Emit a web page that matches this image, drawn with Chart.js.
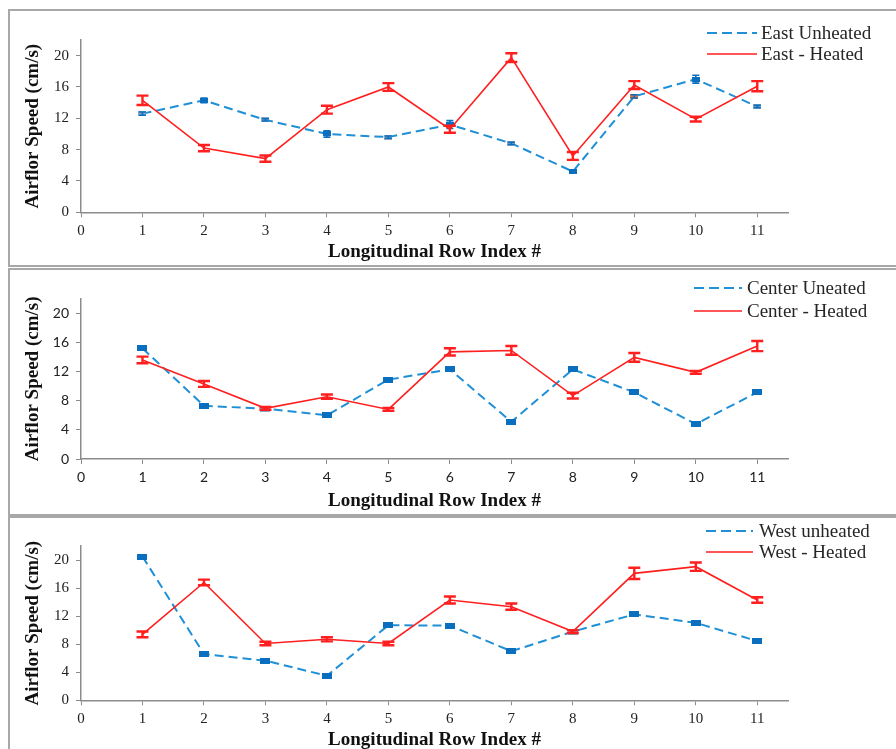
<!DOCTYPE html>
<html>
<head>
<meta charset="utf-8">
<script src="https://cdn.jsdelivr.net/npm/chart.js@4/dist/chart.umd.min.js"></script>
<style>
body{margin:0;background:#fff;width:896px;height:749px;overflow:hidden;position:relative}
.panel{position:absolute;left:8px;width:900px;border:2px solid #a8a8a8;box-sizing:border-box}
canvas{position:absolute;left:0}
.lg{position:absolute;font-family:'Liberation Serif',serif;font-size:19px;color:#262626;white-space:nowrap;line-height:22px}
</style>
</head>
<body>
<div class="panel" style="top:9px;height:258px"></div>
<div class="panel" style="top:268px;height:248px"></div>
<div class="panel" style="top:516px;height:240px"></div>
<canvas id="east" width="896" height="258" style="top:9px"></canvas>
<canvas id="center" width="896" height="249" style="top:268px"></canvas>
<canvas id="west" width="896" height="233" style="top:516px"></canvas>
<div id="legends"></div>
<script>
// row index along the greenhouse
var rowIndex = [1, 2, 3, 4, 5, 6, 7, 8, 9, 10, 11];
var xTickValues = [0, 1, 2, 3, 4, 5, 6, 7, 8, 9, 10, 11];
var yTickValues = [0, 4, 8, 12, 16, 20];

var eastUnheated    = [12.6, 14.3, 11.8, 10.0, 9.6, 11.2, 8.8, 5.2, 14.8, 17.0, 13.5];
var eastUnheatedErr = [0.2, 0.3, 0.15, 0.4, 0.15, 0.5, 0.15, 0.2, 0.2, 0.5, 0.15];
var eastHeated      = [14.3, 8.2, 6.85, 13.1, 16.0, 10.6, 19.75, 7.2, 16.25, 11.9, 16.1];
var eastHeatedErr   = [0.6, 0.4, 0.4, 0.5, 0.5, 0.45, 0.55, 0.5, 0.5, 0.3, 0.65];

var centerUnheated    = [15.2, 7.3, 6.9, 6.0, 10.9, 12.3, 5.1, 12.3, 9.15, 4.8, 9.15];
var centerUnheatedErr = [0.2, 0.2, 0.15, 0.2, 0.2, 0.2, 0.2, 0.2, 0.2, 0.2, 0.2];
var centerHeated      = [13.6, 10.3, 6.95, 8.55, 6.8, 14.7, 14.9, 8.7, 13.95, 11.9, 15.5];
var centerHeatedErr   = [0.45, 0.4, 0.2, 0.3, 0.2, 0.5, 0.6, 0.4, 0.6, 0.2, 0.7];

var westUnheated    = [20.5, 6.6, 5.65, 3.5, 10.7, 10.65, 7.0, 9.8, 12.25, 11.05, 8.45];
var westUnheatedErr = [0.2, 0.2, 0.2, 0.2, 0.2, 0.2, 0.3, 0.2, 0.2, 0.2, 0.2];
var westHeated      = [9.4, 16.8, 8.1, 8.7, 8.1, 14.3, 13.35, 9.8, 18.1, 19.05, 14.3];
var westHeatedErr   = [0.4, 0.4, 0.25, 0.3, 0.25, 0.5, 0.45, 0.2, 0.8, 0.6, 0.4];

var BLUE = '#1f8fd6', MARK = '#0b6fbf', GREY = '#8aa6c2', ORANGE = '#d9773a', RED = '#ff1f1f';

function rectMark(color, w, h){
    var c = document.createElement('canvas');
    c.width = w; c.height = h;
    var g = c.getContext('2d');
    g.fillStyle = color;
    g.fillRect(0, 0, w, h);
    return c;
}

var errorBars = {
    id: 'errorBars',
    afterDatasetDraw: function(chart, args){
        var ds = chart.data.datasets[args.index];
        if(!ds.errors) return;
        var ctx = chart.ctx, xs = chart.scales.x, ys = chart.scales.y;
        ctx.save();
        ctx.strokeStyle = ds.errorColor;
        ctx.lineWidth = ds.errorWidth;
        for(var i = 0; i < ds.data.length; i++){
            var p = ds.data[i];
            var x = xs.getPixelForValue(p.x);
            var t = ys.getPixelForValue(p.y + ds.errors[i]);
            var b = ys.getPixelForValue(p.y - ds.errors[i]);
            var c = ds.capHalf;
            ctx.beginPath();
            ctx.moveTo(x, t); ctx.lineTo(x, b);
            ctx.moveTo(x - c, t); ctx.lineTo(x + c, t);
            ctx.moveTo(x - c, b); ctx.lineTo(x + c, b);
            ctx.stroke();
        }
        ctx.restore();
    }
};

function pts(values){
    return rowIndex.map(function(r, i){ return {x: r, y: values[i]}; });
}

function makePanel(id, p){
    var markers = p.markColors.map(function(c){ return rectMark(c, p.markW, p.markH); });
    var tickFont = {family: p.tickFamily, size: p.tickSize};
    return new Chart(document.getElementById(id), {
        type: 'line',
        data: {
            datasets: [{
                label: p.names[1],
                data: pts(p.heated),
                errors: p.heatedErr,
                errorColor: RED, errorWidth: 2.4, capHalf: 6,
                borderColor: RED,
                borderWidth: 1.6,
                pointRadius: 0,
                tension: 0
            }, {
                label: p.names[0],
                data: pts(p.unheated),
                errors: p.unheatedErr,
                errorColor: MARK, errorWidth: 1.6, capHalf: 3.5,
                borderColor: BLUE,
                borderWidth: 2,
                borderDash: [9, 5],
                pointStyle: markers,
                pointRadius: 4,
                tension: 0
            }]
        },
        options: {
            responsive: false,
            animation: false,
            layout: {padding: {top: p.padTop, right: 108, left: 0, bottom: 0}},
            plugins: {legend: {display: false}, tooltip: {enabled: false}},
            scales: {
                x: {
                    type: 'linear', min: 0, max: 11.5,
                    afterBuildTicks: function(s){ s.ticks = xTickValues.map(function(v){ return {value: v}; }); },
                    afterFit: function(s){ s.height = p.xHeight; },
                    grid: {drawOnChartArea: false, drawTicks: true, tickLength: 5, color: '#8c8c8c'},
                    border: {display: true, color: '#8c8c8c', width: 1.5},
                    ticks: {font: tickFont, color: '#222', padding: 5, maxRotation: 0, autoSkip: false},
                    title: {display: true, text: 'Longitudinal Row Index #', color: '#111',
                        font: {family: "'Liberation Serif', serif", size: 19, weight: 'bold'},
                        padding: {top: 0, bottom: p.xTitlePad}}
                },
                y: {
                    min: 0, max: 22,
                    afterBuildTicks: function(s){ s.ticks = yTickValues.map(function(v){ return {value: v}; }); },
                    afterFit: function(s){ s.width = 81; },
                    grid: {drawOnChartArea: false, drawTicks: true, tickLength: 5, color: '#8c8c8c'},
                    border: {display: true, color: '#8c8c8c', width: 1.5},
                    ticks: {font: tickFont, color: '#222', padding: 7},
                    title: {display: true, text: 'Airflor Speed (cm/s)', color: '#111',
                        font: {family: "'Liberation Serif', serif", size: 19, weight: 'bold'},
                        padding: {top: 22, bottom: 0}}
                }
            }
        },
        plugins: [errorBars]
    });
}

makePanel('east', {
    names: ['East Unheated', 'East - Heated'],
    unheated: eastUnheated, unheatedErr: eastUnheatedErr,
    heated: eastHeated, heatedErr: eastHeatedErr,
    markColors: [GREY, MARK, GREY, MARK, GREY, MARK, GREY, MARK, ORANGE, MARK, GREY],
    markW: 8, markH: 5,
    tickFamily: "'Liberation Serif', serif", tickSize: 15,
    padTop: 31, xHeight: 54.7, xTitlePad: 3.3
});
makePanel('center', {
    names: ['Center Uneated', 'Center - Heated'],
    unheated: centerUnheated, unheatedErr: centerUnheatedErr,
    heated: centerHeated, heatedErr: centerHeatedErr,
    markColors: [MARK, MARK, GREY, MARK, MARK, MARK, MARK, MARK, MARK, MARK, MARK],
    markW: 10, markH: 6,
    tickFamily: "Lato, 'Liberation Sans', sans-serif", tickSize: 14,
    padTop: 30.7, xHeight: 58, xTitlePad: 4.9
});
makePanel('west', {
    names: ['West unheated', 'West - Heated'],
    unheated: westUnheated, unheatedErr: westUnheatedErr,
    heated: westHeated, heatedErr: westHeatedErr,
    markColors: [MARK, MARK, MARK, MARK, MARK, MARK, MARK, GREY, MARK, MARK, MARK],
    markW: 10, markH: 6,
    tickFamily: "'Liberation Serif', serif", tickSize: 15,
    padTop: 30, xHeight: 48.7, xTitlePad: -2
});

// legends, placed like the original Excel ones
var legendRows = [
    {x0: 707, x1: 757, tx: 761, y: 33,  dash: true,  text: 'East Unheated'},
    {x0: 707, x1: 757, tx: 761, y: 54,  dash: false, text: 'East - Heated'},
    {x0: 694, x1: 742, tx: 747, y: 288, dash: true,  text: 'Center Uneated'},
    {x0: 694, x1: 742, tx: 747, y: 311, dash: false, text: 'Center - Heated'},
    {x0: 706, x1: 753, tx: 759, y: 531, dash: true,  text: 'West unheated'},
    {x0: 706, x1: 753, tx: 759, y: 552, dash: false, text: 'West - Heated'}
];
var holder = document.getElementById('legends');
legendRows.forEach(function(r){
    var line = document.createElementNS('http://www.w3.org/2000/svg', 'svg');
    line.setAttribute('width', r.x1 - r.x0);
    line.setAttribute('height', 4);
    line.style.cssText = 'position:absolute;left:' + r.x0 + 'px;top:' + (r.y - 2) + 'px';
    line.innerHTML = '<line x1="0" y1="2" x2="' + (r.x1 - r.x0) + '" y2="2" stroke="' + (r.dash ? BLUE : RED) +
        '" stroke-width="' + (r.dash ? 2 : 1.6) + '"' + (r.dash ? ' stroke-dasharray="10,5"' : '') + '/>';
    holder.appendChild(line);
    var t = document.createElement('div');
    t.className = 'lg';
    t.style.left = r.tx + 'px';
    t.style.top = (r.y - 11) + 'px';
    t.textContent = r.text;
    holder.appendChild(t);
});
</script>
</body>
</html>
